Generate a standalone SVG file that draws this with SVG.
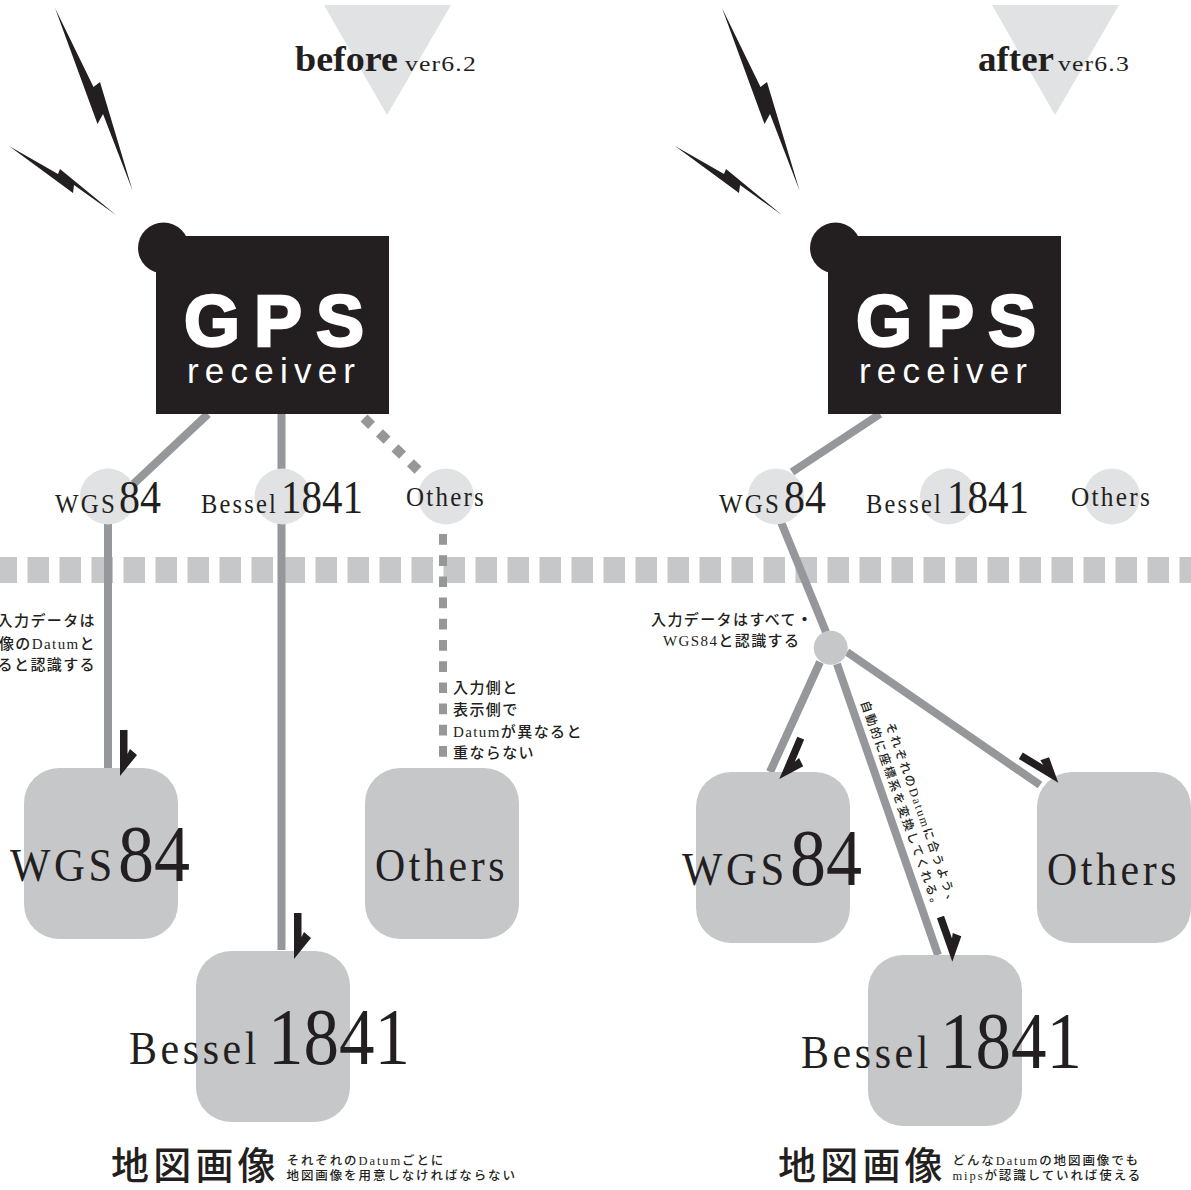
<svg xmlns="http://www.w3.org/2000/svg" xmlns:xlink="http://www.w3.org/1999/xlink" width="1191" height="1190" viewBox="0 0 1191 1190">
<style>
text{font-family:"Liberation Serif","Noto Sans CJK JP",serif;fill:#231f20}
.dark{fill:#231f20}
.tri,.dot{fill:#e1e2e4}
.box{fill:#c6c7c9}
.ln{stroke:#96979b;fill:none;stroke-width:8}
.sm{font-size:15px;letter-spacing:1.4px;font-weight:500}
.ds{font-size:12px;letter-spacing:1.9px;font-weight:500}
.cap{font-size:12.5px;letter-spacing:1.9px;font-weight:500}
.big{font-family:"Noto Sans CJK JP",sans-serif;font-size:38px;letter-spacing:4.200px;font-weight:500}
.g{font-family:"Liberation Sans",sans-serif;font-weight:700;font-size:72px;letter-spacing:14px;fill:#fff;stroke:#fff;stroke-width:2.500px}
.r{font-family:"Liberation Sans",sans-serif;font-size:35px;fill:#fff}
.l{font-size:47px;letter-spacing:4px}
.d{font-size:80px}
.s{font-size:28px;letter-spacing:2.500px}
.m{font-size:46px}
.h{font-size:35px;font-weight:700}
.v{font-size:22px;letter-spacing:1px}
</style>
<defs>
<path id="bolt1" class="dark" d="M55 8L93.500 87L100 82L132.500 190.500L103 114L97.500 124Z"/>
<path id="bolt2" class="dark" d="M9 146L58 174L60 169L116 215L74 185L73 193Z"/>
<g id="gps">
<circle class="dark" cx="163.500" cy="248" r="25.500"/>
<rect class="dark" x="156" y="236" width="233" height="178"/>
<text class="g" x="184" y="346" textLength="194">GPS</text>
<text class="r" x="187" y="383" textLength="168" lengthAdjust="spacing">receiver</text>
</g>
<path id="arr" class="dark" d="M0 0V-46H7.500V-22L10 -27L17 -21Z"/>
</defs>
<g id="band"><path d="M-4.500 570H1191" stroke="#c6c7c9" stroke-width="26" stroke-dasharray="21.500 10.500" fill="none"/></g>
<g id="before-title">
<path class="tri" d="M324 5H451L387 115Z"/>
<text class="h" x="295" y="71" textLength="103" lengthAdjust="spacingAndGlyphs">before</text>
<text class="v" x="405" y="71" textLength="72" lengthAdjust="spacingAndGlyphs">ver6.2</text>
</g>
<g id="after-title">
<path class="tri" d="M992 5H1119L1055 115Z"/>
<text class="h" x="978" y="71" textLength="76" lengthAdjust="spacingAndGlyphs">after</text>
<text class="v" x="1058" y="71" textLength="72" lengthAdjust="spacingAndGlyphs">ver6.3</text>
</g>
<g id="bolts-left"><use xlink:href="#bolt1"/><use xlink:href="#bolt2"/></g>
<g id="bolts-right"><use xlink:href="#bolt1" x="667"/><use xlink:href="#bolt2" x="666"/></g>
<g id="connectors">
<path class="ln" d="M208 414L127 490M108 520V768M281.500 414V470M281.500 520V950"/>
<path class="ln" d="M364 418L420 472" style="stroke-width:10;stroke-dasharray:10.500 11"/>
<path class="ln" d="M443 534V759" style="stroke-dasharray:10.700 10.500"/>
<path class="ln" d="M880 414L792 472M781 522L826 632M820 662L770 772M847 652L1040 785M837 664L938 955"/>
</g>
<g id="dot-wgs-l"><circle class="dot" cx="108" cy="496.500" r="28"/></g>
<g id="dot-bes-l"><circle class="dot" cx="282.500" cy="496.500" r="28"/></g>
<g id="dot-oth-l"><circle class="dot" cx="446" cy="496.500" r="28"/></g>
<g id="dot-wgs-r"><circle class="dot" cx="776" cy="496.500" r="28"/></g>
<g id="dot-bes-r"><circle class="dot" cx="948" cy="496.500" r="28"/></g>
<g id="dot-oth-r"><circle class="dot" cx="1112" cy="496.500" r="28"/></g>
<g id="hub"><circle class="box" cx="830.700" cy="647.700" r="17"/></g>
<g id="gps-left"><use xlink:href="#gps"/></g>
<g id="gps-right"><use xlink:href="#gps" x="672"/></g>
<g id="box-wgs-l"><rect class="box" x="24" y="768" width="154" height="171" rx="35"/><text class="l" x="10" y="881" textLength="106" lengthAdjust="spacingAndGlyphs">WGS</text><text class="d" x="118" y="881" textLength="72" lengthAdjust="spacingAndGlyphs">84</text></g>
<g id="box-oth-l"><rect class="box" x="365" y="768" width="154" height="171" rx="35"/><text class="l" x="375" y="881" textLength="133" lengthAdjust="spacingAndGlyphs">Others</text></g>
<g id="box-bes-l"><rect class="box" x="196" y="951" width="154" height="171" rx="35"/><text class="l" x="129" y="1064" textLength="131" lengthAdjust="spacingAndGlyphs">Bessel</text><text class="d" x="268" y="1064" textLength="142" lengthAdjust="spacingAndGlyphs">1841</text></g>
<g id="box-wgs-r"><rect class="box" x="696" y="772" width="154" height="171" rx="35"/><text class="l" x="682" y="885" textLength="106" lengthAdjust="spacingAndGlyphs">WGS</text><text class="d" x="790" y="885" textLength="72" lengthAdjust="spacingAndGlyphs">84</text></g>
<g id="box-oth-r"><rect class="box" x="1037" y="772" width="154" height="171" rx="35"/><text class="l" x="1047" y="885" textLength="133" lengthAdjust="spacingAndGlyphs">Others</text></g>
<g id="box-bes-r"><rect class="box" x="868" y="955" width="154" height="171" rx="35"/><text class="l" x="801" y="1068" textLength="131" lengthAdjust="spacingAndGlyphs">Bessel</text><text class="d" x="940" y="1068" textLength="142" lengthAdjust="spacingAndGlyphs">1841</text></g>
<g id="labels-left">
<text class="s" x="55" y="513" textLength="62" lengthAdjust="spacingAndGlyphs">WGS</text><text class="m" x="119" y="513" textLength="42" lengthAdjust="spacingAndGlyphs">84</text>
<text class="s" x="201" y="513" textLength="77" lengthAdjust="spacingAndGlyphs">Bessel</text><text class="m" x="281" y="513" textLength="82" lengthAdjust="spacingAndGlyphs">1841</text>
<text class="s" x="406" y="506" textLength="80" lengthAdjust="spacingAndGlyphs">Others</text>
<text class="sm" x="96" y="626" text-anchor="end">入力データは</text>
<text class="sm" x="96" y="648.500" text-anchor="end">像のDatumと</text>
<text class="sm" x="96" y="670" text-anchor="end">ると認識する</text>
<text class="sm" x="453" y="693">入力側と</text>
<text class="sm" x="453" y="715">表示側で</text>
<text class="sm" x="453" y="737">Datumが異なると</text>
<text class="sm" x="453" y="757.500">重ならない</text>
</g>
<g id="labels-right">
<text class="s" x="719" y="513" textLength="62" lengthAdjust="spacingAndGlyphs">WGS</text><text class="m" x="784" y="513" textLength="42" lengthAdjust="spacingAndGlyphs">84</text>
<text class="s" x="866" y="513" textLength="77" lengthAdjust="spacingAndGlyphs">Bessel</text><text class="m" x="947" y="513" textLength="82" lengthAdjust="spacingAndGlyphs">1841</text>
<text class="s" x="1071" y="506" textLength="81" lengthAdjust="spacingAndGlyphs">Others</text>
<text class="sm" x="651" y="625">入力データはすべて<tspan font-weight="900">・</tspan></text>
<text class="sm" x="663" y="646">WGS84と認識する</text>
<text class="ds" transform="translate(860.500,702.600) rotate(70.500)">自動的に座標系を変換してくれる。</text>
<text class="ds" transform="translate(885.500,724.200) rotate(70.500)">それぞれのDatumに合うよう、</text>
</g>
<g id="arrows">
<use xlink:href="#arr" transform="translate(120,776)"/>
<use xlink:href="#arr" transform="translate(294,959)"/>
<use xlink:href="#arr" transform="translate(779.300,779) rotate(23)"/>
<use xlink:href="#arr" transform="translate(952.300,961.700) rotate(-19.500)"/>
<use xlink:href="#arr" transform="translate(1058.300,782.700) rotate(-59)"/>
</g>
<g id="captions">
<text class="big" x="111" y="1179">地図画像</text>
<text class="cap" x="286.500" y="1165">それぞれのDatumごとに</text>
<text class="cap" x="286.500" y="1179.500">地図画像を用意しなければならない</text>
<text class="big" x="778" y="1179">地図画像</text>
<text class="cap" x="952.500" y="1165">どんなDatumの地図画像でも</text>
<text class="cap" x="952.500" y="1179.500">mipsが認識していれば使える</text>
</g>
</svg>
